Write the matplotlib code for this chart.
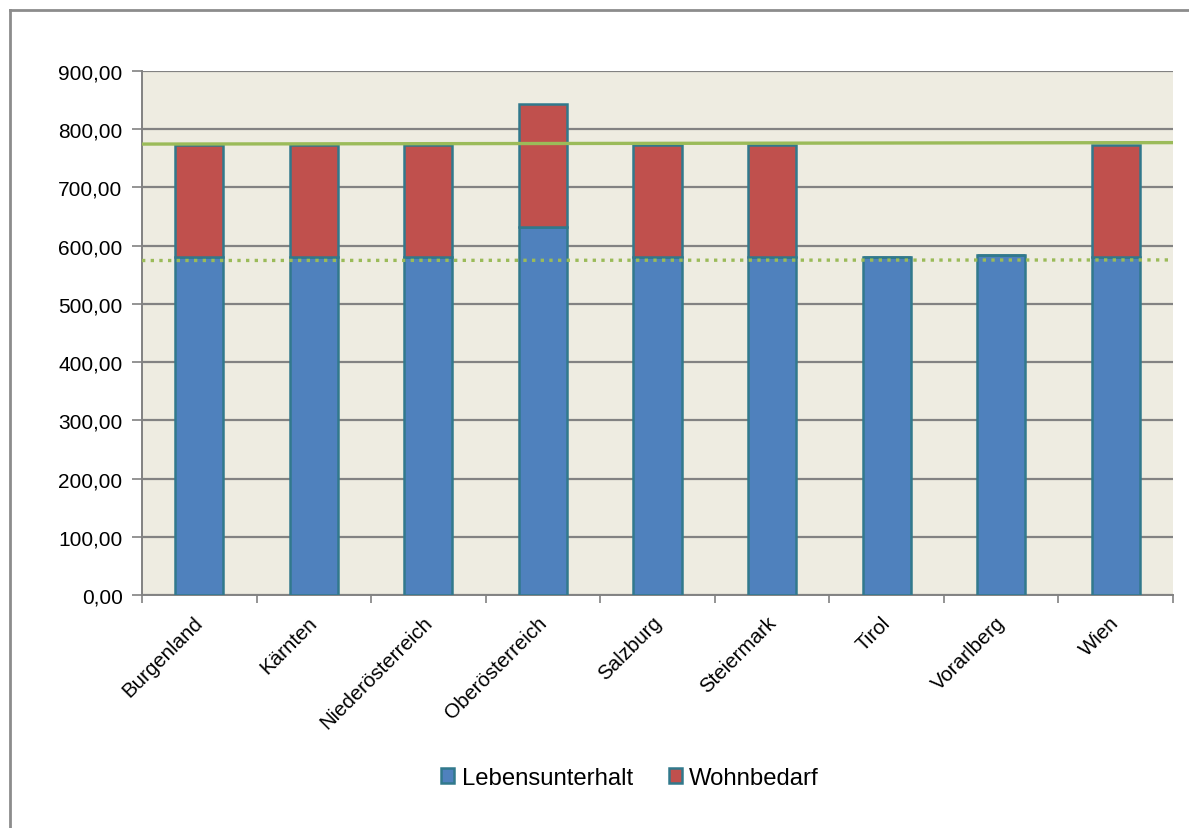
import numpy as np
import matplotlib.pyplot as plt
from matplotlib.lines import Line2D
from matplotlib.ticker import FuncFormatter, MultipleLocator
from matplotlib.transforms import ScaledTranslation

# Bundesländer und Beträge (Euro)
laender = ['Burgenland', 'Kärnten', 'Niederösterreich', 'Oberösterreich',
           'Salzburg', 'Steiermark', 'Tirol', 'Vorarlberg', 'Wien']
lebensunterhalt = [579.95, 579.95, 579.95, 632.10, 579.95, 579.95, 579.95, 584.00, 579.95]
wohnbedarf = [193.31, 193.31, 193.31, 210.70, 193.31, 193.31, 0.0, 0.0, 193.31]

# Referenzlinien (Wert am linken und rechten Rand)
richtsatz = [774.5, 777.0]
richtsatz_lu = [574.5, 575.5]

plt.rcParams['font.family'] = ['Liberation Sans', 'DejaVu Sans']

fig = plt.figure(figsize=(11.89, 8.29), dpi=100)
ax = fig.add_axes([142 / 1189, 1 - 596 / 829, 1031 / 1189, 524 / 829])

blau = '#4F81BD'
rot = '#C0504D'
rand = '#31798C'
gruen = '#9BBB59'
grau = '#828282'

x = np.arange(len(laender))
ax.set_facecolor('#EEECE1')
ax.bar(x, lebensunterhalt, width=0.42, color=blau, edgecolor=rand, linewidth=1.8,
       label='Lebensunterhalt', zorder=3)
ax.bar(x, wohnbedarf, width=0.42, bottom=lebensunterhalt, color=rot, edgecolor=rand,
       linewidth=1.8, label='Wohnbedarf', zorder=3)

ax.set_xlim(-0.5, len(laender) - 0.5)
ax.set_ylim(0, 900)
ends = [-0.5, len(laender) - 0.5]
ax.plot(ends, richtsatz, color=gruen, lw=2.4, zorder=4, solid_capstyle='butt')
ax.plot(ends, richtsatz_lu, color=gruen, lw=2.4, ls=(0, (1, 1.6)), zorder=4)

ax.yaxis.set_major_locator(MultipleLocator(100))
ax.yaxis.set_major_formatter(FuncFormatter(lambda v, p: f'{v:.2f}'.replace('.', ',')))
ax.grid(axis='y', color=grau, lw=1.6, zorder=1)
ax.set_axisbelow(True)

ax.set_xticks(x)
ax.set_xticklabels(laender, rotation=45, ha='right', rotation_mode='anchor', fontsize=14.8)
ax.set_xticks(np.arange(len(laender) + 1) - 0.5, minor=True)
ax.tick_params(axis='x', which='major', length=0, pad=12.5)
ax.tick_params(axis='x', which='minor', length=6, color=grau, width=1.2)
ax.tick_params(axis='y', length=7, color=grau, width=1.2, labelsize=15, pad=7)

# Beschriftungen etwas nach links schieben
shift = ScaledTranslation(-6 / 100, 0, fig.dpi_scale_trans)
for lab in ax.get_xticklabels():
    lab.set_transform(lab.get_transform() + shift)

for s in ['top', 'right']:
    ax.spines[s].set_visible(False)
for s in ['left', 'bottom']:
    ax.spines[s].set_color(grau)
    ax.spines[s].set_linewidth(1.4)

ax.legend(loc='center', bbox_to_anchor=(630 / 1189, 1 - 779 / 829),
          bbox_transform=fig.transFigure, ncol=2, frameon=False, fontsize=17.2,
          handlelength=0.55, handleheight=0.55, handletextpad=0.3, columnspacing=1.5)

# Rahmen links und oben
fig.add_artist(Line2D([10 / 1189, 10 / 1189], [0, 1 - 11 / 829], color='#8C8C8C', lw=2,
                      transform=fig.transFigure))
fig.add_artist(Line2D([10 / 1189, 1], [1 - 11 / 829, 1 - 11 / 829], color='#8C8C8C', lw=2,
                      transform=fig.transFigure))

fig.savefig('out.png', dpi=100)
